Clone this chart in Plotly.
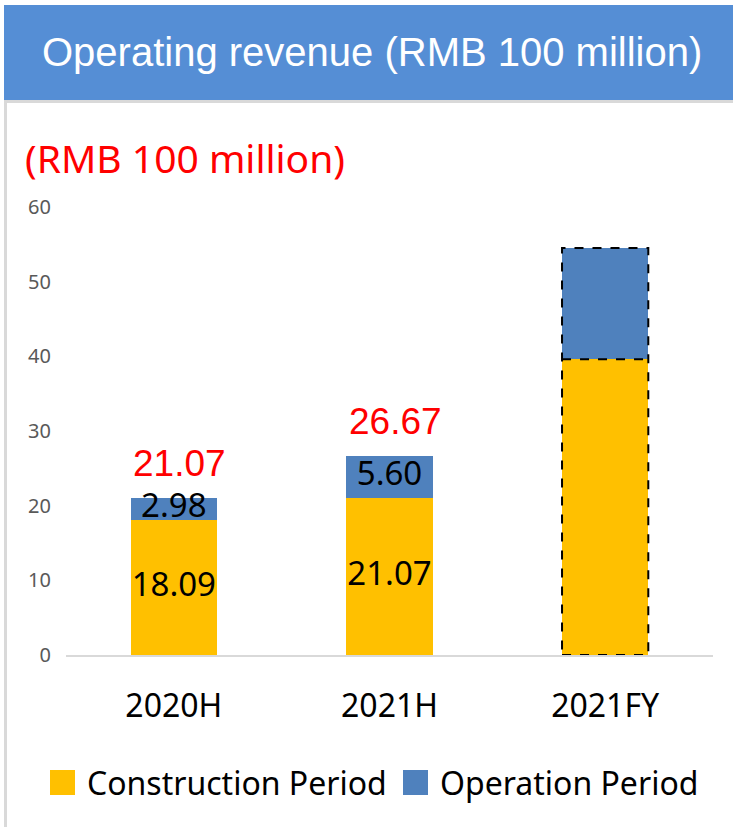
import plotly.graph_objects as go

# ---- data ----
categories = ["2020H", "2021H", "2021FY"]
construction = [18.09, 21.07, 39.6]
operation = [2.98, 5.60, 14.9]
label_construction = ["18.09", "21.07", ""]
label_operation = ["2.98", "5.60", ""]
total_labels = ["21.07", "26.67", ""]
dashed_outline = [False, False, True]
y_ticks = [0, 10, 20, 30, 40, 50, 60]

YELLOW = "#FFC000"
BLUE = "#4F81BD"
BAR_W = 0.40

W, H = 733, 827
L, R, T, B = 66, 20, 207, 172
PW, PH = W - L - R, H - T - B


def px(x):
    return (x - L) / PW


def py(y):
    return (H - B - y) / PH


fig = go.Figure()
fig.add_trace(go.Bar(x=categories, y=construction, name="Construction Period",
                     marker=dict(color=YELLOW, line=dict(width=0)), width=BAR_W))
fig.add_trace(go.Bar(x=categories, y=operation, name="Operation Period",
                     marker=dict(color=BLUE, line=dict(width=0)), width=BAR_W))

# inside labels
mid_c = [c / 2 for c in construction]
mid_o = [c + o / 2 for c, o in zip(construction, operation)]
fig.add_trace(go.Scatter(x=categories, y=mid_c, mode="text", text=label_construction,
                         textfont=dict(family="Noto Sans", size=33, color="black"),
                         showlegend=False, hoverinfo="skip"))
fig.add_trace(go.Scatter(x=categories, y=mid_o, mode="text", text=label_operation,
                         textfont=dict(family="Noto Sans", size=33, color="black"),
                         showlegend=False, hoverinfo="skip"))

totals = [c + o for c, o in zip(construction, operation)]
for i, (cat, tot, lab) in enumerate(zip(categories, totals, total_labels)):
    if lab:
        fig.add_annotation(x=cat, y=tot, text=lab, showarrow=False, xanchor="center",
                           yanchor="bottom", yshift=12, xshift=6,
                           font=dict(family="Liberation Sans", size=37, color="#FF0000"))

# dashed outlines (forecast bar)
for i, flag in enumerate(dashed_outline):
    if flag:
        fig.add_shape(type="rect", xref="x", yref="y",
                      x0=i - BAR_W / 2, x1=i + BAR_W / 2, y0=0, y1=totals[i],
                      line=dict(color="black", width=2, dash="dash"),
                      fillcolor="rgba(0,0,0,0)", layer="above")
        fig.add_shape(type="line", xref="x", yref="y",
                      x0=i - BAR_W / 2, x1=i + BAR_W / 2, y0=construction[i], y1=construction[i],
                      line=dict(color="black", width=2, dash="dash"), layer="above")

# header band
fig.add_shape(type="rect", xref="paper", yref="paper", x0=px(4), x1=px(740), y0=py(100), y1=py(5),
              fillcolor="#558ED5", line=dict(width=0), layer="below")
# border lines
fig.add_shape(type="line", xref="paper", yref="paper", x0=px(4), x1=px(740), y0=py(101.5), y1=py(101.5),
              line=dict(color="#D9D9D9", width=3))
fig.add_shape(type="line", xref="paper", yref="paper", x0=px(5.5), x1=px(5.5), y0=py(101), y1=py(830),
              line=dict(color="#D9D9D9", width=3))

fig.add_annotation(xref="paper", yref="paper", x=px(372), y=py(52), text="Operating revenue (RMB 100 million)",
                   showarrow=False, xanchor="center", yanchor="middle",
                   font=dict(family="Liberation Sans", size=40, color="white"))
fig.add_annotation(xref="paper", yref="paper", x=px(23), y=py(157), text="(RMB 100 million)",
                   showarrow=False, xanchor="left", yanchor="middle",
                   font=dict(family="Noto Sans", size=39, color="#FF0000"))

# manual legend
leg = [(YELLOW, "Construction Period", 50), (BLUE, "Operation Period", 403)]
for col, name, x0 in leg:
    fig.add_shape(type="rect", xref="paper", yref="paper", x0=px(x0), x1=px(x0 + 25),
                  y0=py(795), y1=py(770), fillcolor=col, line=dict(width=0))
    fig.add_annotation(xref="paper", yref="paper", x=px(x0 + 35), y=py(782), text=name,
                       showarrow=False, xanchor="left", yanchor="middle",
                       font=dict(family="Noto Sans", size=32, color="black"))

fig.update_layout(
    width=W, height=H, barmode="stack", showlegend=False,
    margin=dict(l=L, r=R, t=T, b=B),
    paper_bgcolor="white", plot_bgcolor="white",
    xaxis=dict(showgrid=False, showline=True, linecolor="#D9D9D9", linewidth=2,
               ticks="", tickfont=dict(family="Noto Sans", size=32, color="black"),
               ticklabelstandoff=22, range=[-0.5, 2.5]),
    yaxis=dict(range=[0, 60], tickvals=y_ticks, showgrid=False, showline=False, zeroline=False,
               tickfont=dict(family="Noto Sans", size=20, color="#595959"),
               ticklabelstandoff=14),
)

fig.write_html("out.html", config={"displayModeBar": False},
               post_script="document.body.style.margin='0';")
